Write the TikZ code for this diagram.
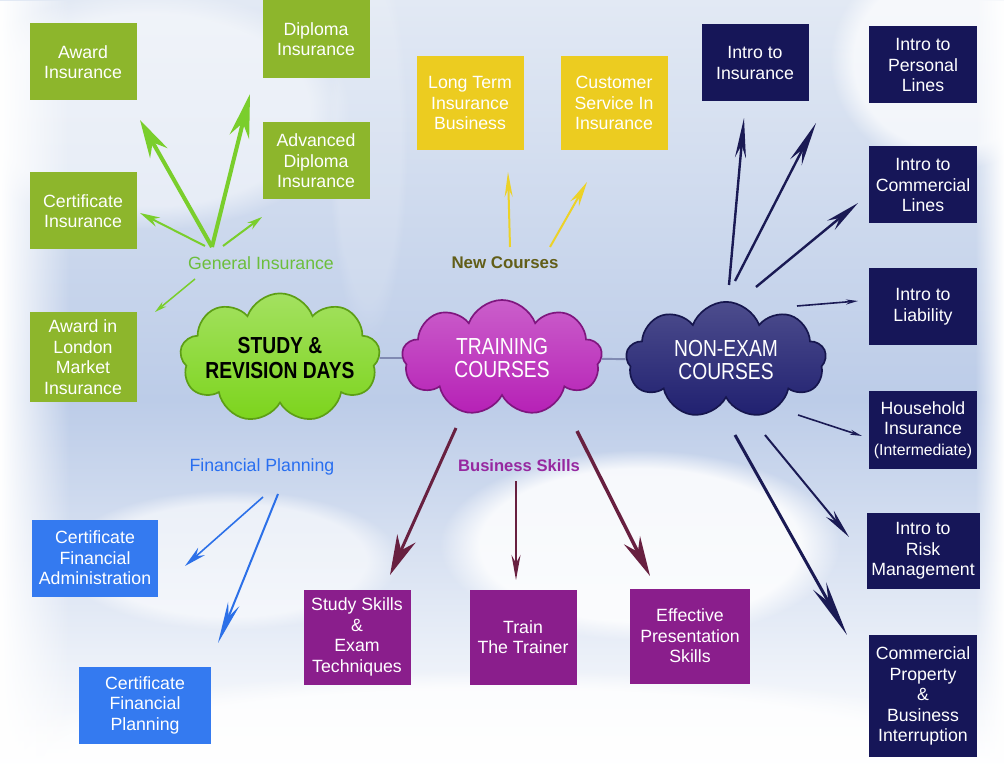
\documentclass[tikz,border=0pt]{standalone}
\usepackage{fontspec}
\setmainfont{Liberation Sans}
\newfontfamily\cloudfont[FakeStretch=0.83]{Liberation Sans}
\usetikzlibrary{arrows.meta,shapes.symbols,fadings}
\definecolor{skytop}{RGB}{226,233,244}
\definecolor{skymid}{RGB}{188,204,232}
\definecolor{gibox}{RGB}{141,182,44}
\definecolor{ncbox}{RGB}{236,204,32}
\definecolor{nebox}{RGB}{22,22,88}
\definecolor{fpbox}{RGB}{52,122,240}
\definecolor{bsbox}{RGB}{138,30,140}
\definecolor{giline}{RGB}{122,206,44}
\definecolor{ncline}{RGB}{236,210,40}
\definecolor{neline}{RGB}{26,26,84}
\definecolor{fpline}{RGB}{44,112,232}
\definecolor{bsline}{RGB}{104,32,64}
\definecolor{gitext}{RGB}{108,190,60}
\definecolor{nctext}{RGB}{98,94,24}
\definecolor{fptext}{RGB}{40,110,240}
\definecolor{bstext}{RGB}{150,40,160}
\definecolor{srcloud}{RGB}{124,212,28}
\definecolor{tccloud}{RGB}{182,32,182}
\definecolor{necloud}{RGB}{32,32,112}
\definecolor{linkgray}{RGB}{128,138,178}
\tikzfading[name=fade right, left color=transparent!0, right color=transparent!100]
\tikzfading[name=fade left, left color=transparent!100, right color=transparent!0]

\begin{document}
\begin{tikzpicture}[x=0.025cm, y=-0.025cm,
    box/.style 2 args={rectangle, inner sep=0pt, align=center, text=white,
      font=\fontsize{12.6}{14.6}\selectfont, minimum width=#1*0.025cm, minimum height=#2*0.025cm},
    cloudbox/.style={cloud, cloud puffs=9, cloud puff arc=140, aspect=1.7, inner sep=0pt,
      align=center, minimum width=5cm, minimum height=2.9cm, line width=1.2pt,
      font=\cloudfont\fontsize{16.5}{16.8}\selectfont},
    topic/.style={font=\fontsize{12.6}{14}\selectfont},
    arw/.style n args={3}{line width=#1mm, -{Stealth[length=#2mm, width=#3mm]}},
    link/.style={draw=linkgray, line width=1.4pt}]

    \useasboundingbox (0,0) rectangle (1004,766);
    \shade[top color=skytop, bottom color=skymid] (0,0) rectangle (1004,400);
    \shade[top color=skymid, bottom color=white] (0,400) rectangle (1004,766);
    \fill[white, fill opacity=.15, path fading=circle with fuzzy edge 20 percent] (368,140) ellipse (40 and 200);
    \fill[white, fill opacity=.85, path fading=circle with fuzzy edge 20 percent] (640,545) ellipse (200 and 95);
    \fill[white, fill opacity=.6, path fading=circle with fuzzy edge 20 percent] (230,560) ellipse (170 and 70);
    \fill[white, fill opacity=.8, path fading=circle with fuzzy edge 20 percent] (500,760) ellipse (520 and 90);
    \fill[white, fill opacity=.7, path fading=circle with fuzzy edge 20 percent] (950,60) ellipse (120 and 110);
    \fill[white, fill opacity=.5, path fading=circle with fuzzy edge 20 percent] (150,110) ellipse (200 and 120);
    \fill[white, path fading=fade right] (0,0) rectangle (70,766);
    \fill[white, path fading=fade left] (975,0) rectangle (1004,766);

    \node[cloudbox, top color=srcloud!70!white, bottom color=srcloud, draw=srcloud!75!black, text=black,
      inner xsep=-12pt, inner ysep=-8pt,
      font=\cloudfont\bfseries\fontsize{16.5}{17.2}\selectfont] (study) at (280,358) {STUDY \&\\REVISION DAYS};
    \node[cloudbox, top color=tccloud!72!white, bottom color=tccloud, draw=tccloud!70!black, text=white] (train) at (502,358) {TRAINING\\COURSES};
    \node[cloudbox, top color=necloud!80!white, bottom color=necloud, draw=necloud!70!black, text=white] (nonexam) at (726,360) {NON-EXAM\\COURSES};
    \draw[link] (study) -- (train);
    \draw[link] (train) -- (nonexam);

    \node[box={107}{77}, fill=gibox] (awardins) at (83,62) {Award\\Insurance};
    \node[box={107}{78}, fill=gibox] (diploma) at (316,39) {Diploma\\Insurance};
    \node[box={107}{77}, fill=gibox] (advdiploma) at (316,161) {Advanced\\Diploma\\Insurance};
    \node[box={107}{77}, fill=gibox] (certins) at (83,211) {Certificate\\Insurance};
    \node[box={107}{90}, fill=gibox] (london) at (83,357) {Award in\\London\\Market\\Insurance};

    \node[box={107}{94}, fill=ncbox] (longterm) at (470,103) {Long Term\\Insurance\\Business};
    \node[box={107}{94}, fill=ncbox] (custserv) at (614,103) {Customer\\Service In\\Insurance};

    \node[box={107}{77}, fill=nebox] (introins) at (755,63) {Intro to\\Insurance};
    \node[box={108}{77}, fill=nebox] (personal) at (923,65) {Intro to\\Personal\\Lines};
    \node[box={108}{77}, fill=nebox] (commercial) at (923,185) {Intro to\\Commercial\\Lines};
    \node[box={108}{77}, fill=nebox] (liability) at (923,307) {Intro to\\Liability};
    \node[box={108}{77}, fill=nebox] (household) at (923,430) {Household\\Insurance\\{\fontsize{11.2}{14}\selectfont(Intermediate)}};
    \node[box={113}{76}, fill=nebox] (risk) at (923,551) {Intro to\\Risk\\Management};
    \node[box={108}{122}, fill=nebox] (property) at (923,696) {Commercial\\Property\\\&\\Business\\Interruption};

    \node[box={107}{95}, fill=bsbox] (studyskills) at (357,637) {Study Skills\\\&\\Exam\\Techniques};
    \node[box={107}{95}, fill=bsbox] (trainer) at (523,637) {Train\\The Trainer};
    \node[box={120}{95}, fill=bsbox] (presentation) at (690,636) {Effective\\Presentation\\Skills};

    \node[box={126}{77}, fill=fpbox] (finadmin) at (95,558) {Certificate\\Financial\\Administration};
    \node[box={132}{77}, fill=fpbox] (finplan) at (145,705) {Certificate\\Financial\\Planning};

    \node[topic, text=gitext] (geninsurance) at (261,263) {General Insurance};
    \node[topic, text=nctext, font=\bfseries\fontsize{12}{14}\selectfont] (newcourses) at (505,263) {New Courses};
    \node[topic, text=fptext] (finplanning) at (262,467) {Financial Planning};
    \node[topic, text=bstext, font=\bfseries\fontsize{11.8}{14}\selectfont] (busskills) at (519,466) {Business Skills};

    \coordinate (gi-hub) at (212,247);
    \coordinate (gi-award) at (140,120);
    \coordinate (gi-diploma) at (250,94);
    \coordinate (gi-cert0) at (205,246);   \coordinate (gi-cert) at (140,213);
    \coordinate (gi-adv0) at (223,246);    \coordinate (gi-adv) at (262,217);
    \coordinate (gi-lon0) at (195,279);    \coordinate (gi-lon) at (155,312);
    \coordinate (nc-lt0) at (510,247);     \coordinate (nc-lt) at (508,172);
    \coordinate (nc-cs0) at (550,247);     \coordinate (nc-cs) at (587,182);
    \coordinate (ne-ii0) at (729,285);     \coordinate (ne-ii) at (744,118);
    \coordinate (ne-pl0) at (735,281);     \coordinate (ne-pl) at (816,123);
    \coordinate (ne-cl0) at (756,287);     \coordinate (ne-cl) at (858,203);
    \coordinate (ne-li0) at (797,306);     \coordinate (ne-li) at (858,301);
    \coordinate (ne-hh0) at (798,415);     \coordinate (ne-hh) at (862,436);
    \coordinate (ne-rm0) at (765,435);     \coordinate (ne-rm) at (849,537);
    \coordinate (ne-cp0) at (735,435);     \coordinate (ne-cp) at (847,635);
    \coordinate (bs-ss0) at (456,428);     \coordinate (bs-ss) at (390,575);
    \coordinate (bs-tt0) at (516,481);     \coordinate (bs-tt) at (516,580);
    \coordinate (bs-ep0) at (577,431);     \coordinate (bs-ep) at (650,576);
    \coordinate (fp-fa0) at (263,497);     \coordinate (fp-fa) at (185,566);
    \coordinate (fp-cp0) at (278,494);     \coordinate (fp-cp) at (218,643);

    \draw[arw={1}{9.5}{5}, giline] (gi-hub) -- (gi-award);
    \draw[arw={1}{11}{5}, giline] (gi-hub) -- (gi-diploma);
    \draw[arw={.5}{5}{2.5}, giline] (gi-cert0) -- (gi-cert);
    \draw[arw={.5}{3.75}{2}, giline] (gi-adv0) -- (gi-adv);
    \draw[arw={.375}{3}{1.5}, giline] (gi-lon0) -- (gi-lon);

    \draw[arw={.5}{6.25}{2}, ncline] (nc-lt0) -- (nc-lt);
    \draw[arw={.5}{6.25}{2.5}, ncline] (nc-cs0) -- (nc-cs);

    \draw[arw={.6}{10}{2.75}, neline] (ne-ii0) -- (ne-ii);
    \draw[arw={.6}{11}{3.25}, neline] (ne-pl0) -- (ne-pl);
    \draw[arw={.6}{8.75}{3}, neline] (ne-cl0) -- (ne-cl);
    \draw[arw={.4}{3}{1.25}, neline] (ne-li0) -- (ne-li);
    \draw[arw={.4}{3}{1.25}, neline] (ne-hh0) -- (ne-hh);
    \draw[arw={.5}{7.5}{2.5}, neline] (ne-rm0) -- (ne-rm);
    \draw[arw={.75}{14}{3.75}, neline] (ne-cp0) -- (ne-cp);

    \draw[arw={.75}{10}{5}, bsline] (bs-ss0) -- (bs-ss);
    \draw[arw={.5}{6.25}{2.25}, bsline] (bs-tt0) -- (bs-tt);
    \draw[arw={.875}{10}{4.5}, bsline] (bs-ep0) -- (bs-ep);

    \draw[arw={.4}{5.5}{2.5}, fpline] (fp-fa0) -- (fp-fa);
    \draw[arw={.5}{10.5}{3}, fpline] (fp-cp0) -- (fp-cp);
\end{tikzpicture}
\end{document}
